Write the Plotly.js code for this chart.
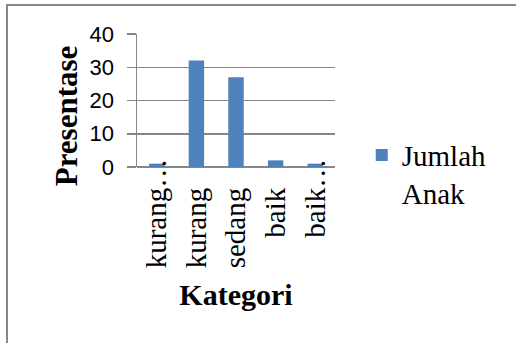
<!DOCTYPE html>
<html>
<head>
<meta charset="utf-8">
<script src="https://cdn.plot.ly/plotly-3.0.1.min.js"></script>
<style>
  html, body { margin: 0; padding: 0; background: #fff; }
  #wrap { position: relative; width: 516px; height: 343px; overflow: hidden; }
  #chart { position: absolute; left: 0; top: 0; width: 516px; height: 343px; }
  #frame { position: absolute; left: 6px; top: 4px; width: 600px; height: 400px;
           border-top: 2px solid #878787; border-left: 2px solid #878787; pointer-events: none; }
</style>
</head>
<body>
<div id="wrap">
  <div id="chart"></div>
  <div id="frame"></div>
</div>
<script>
// Data
const categories = ["kurang …", "kurang", "sedang", "baik", "baik …"];
const pad = "\u00A0\u00A0\u00A0\u00A0";
const tickLabels = ["kurang…", "kurang" + pad, "sedang" + pad, "baik" + pad, "baik…"];
const jumlahAnak = [1, 32, 27, 2, 1];
const seriesName = "Jumlah<br>Anak";
const yTickValues = [0, 10, 20, 30, 40];

const serif = "'Liberation Serif', 'Times New Roman', serif";
const sans = "'Liberation Sans', Arial, sans-serif";
const gridColor = "#868686";

const trace = {
  type: "bar",
  x: categories,
  y: jumlahAnak,
  name: seriesName,
  marker: { color: "#4F81BD" },
  showlegend: true
};

const layout = {
  width: 516,
  height: 343,
  margin: { l: 137, r: 181, t: 34, b: 176, pad: 0 },
  paper_bgcolor: "#ffffff",
  plot_bgcolor: "#ffffff",
  font: { family: serif, color: "#000" },
  bargap: 0.61,
  showlegend: true,
  xaxis: {
    type: "category",
    tickvals: categories,
    ticktext: tickLabels,
    tickangle: -90,
    tickfont: { family: serif, size: 29, color: "#000" },
    showgrid: false,
    showline: false,
    zeroline: false,
    ticks: "",
    ticklabelstandoff: -15,
    title: { text: "<b>Kategori</b>", font: { family: serif, size: 30, color: "#000" }, standoff: 16 }
  },
  yaxis: {
    range: [0, 40],
    tickvals: yTickValues,
    tickfont: { family: sans, size: 22, color: "#000" },
    showgrid: true,
    gridcolor: gridColor,
    gridwidth: 1.5,
    showline: true,
    linecolor: gridColor,
    linewidth: 1.5,
    zeroline: true,
    zerolinecolor: gridColor,
    zerolinewidth: 1.5,
    ticks: "outside",
    ticklen: 9,
    tickcolor: gridColor,
    tickwidth: 1.5,
    ticklabelstandoff: 8,
    title: { text: "<b>Presentase\u00A0\u00A0\u00A0\u00A0\u200B</b>", font: { family: serif, size: 31, color: "#000" }, standoff: 3 }
  },
  legend: {
    x: 1.135,
    y: 0.28,
    xanchor: "left",
    yanchor: "top",
    valign: "top",
    font: { family: serif, size: 29, color: "#000" },
    bgcolor: "rgba(0,0,0,0)",
    borderwidth: 0
  }
};

Plotly.newPlot("chart", [trace], layout, { displayModeBar: false, staticPlot: true });
</script>
</body>
</html>
